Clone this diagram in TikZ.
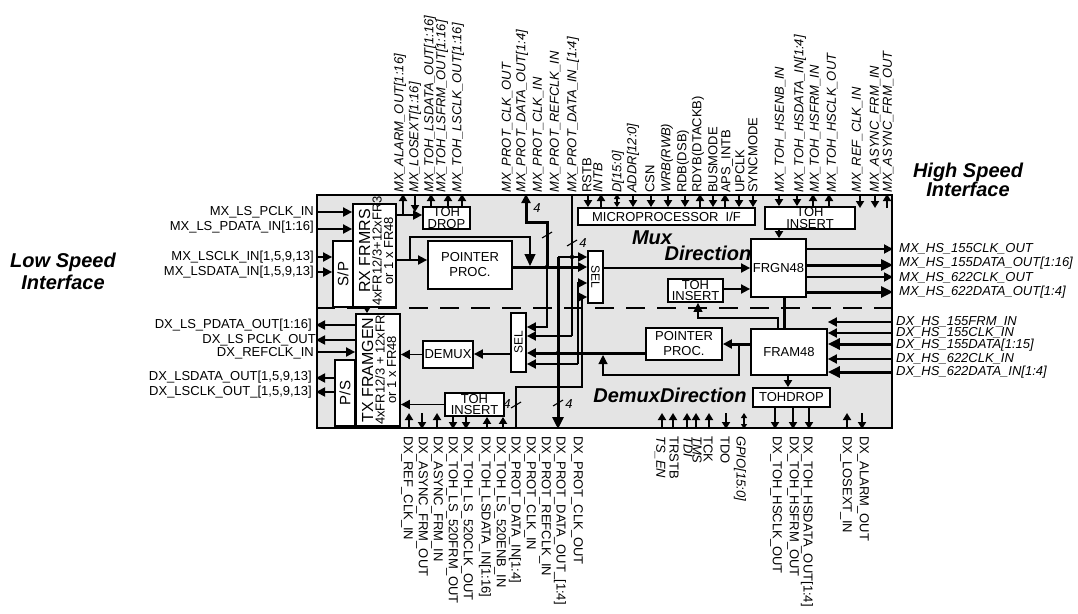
\documentclass[tikz,border=0pt]{standalone}
\usepackage{fontspec}
\setmainfont{Liberation Sans}
\usetikzlibrary{arrows.meta}
\definecolor{chipgray}{HTML}{E4E4E4}
\begin{document}
\begin{tikzpicture}[x=1pt,y=-1pt,
  blk/.style={draw, line width=1.8pt, fill=white, inner sep=0pt},
  btxt/.style={font=\fontsize{13}{11.5}\selectfont, align=center, inner sep=0pt},
  w/.style={line width=1.8pt},
  bus/.style={line width=3pt},
  thin/.style={line width=1.1pt},
  arr/.style={-{Triangle[length=9pt,width=9pt]}},
  barr/.style={-{Triangle[length=12pt,width=11pt]}},
  parr/.style={-{Triangle[length=7pt,width=8pt]}},
  biarr/.style={{Triangle[length=5pt,width=6pt]}-{Triangle[length=5pt,width=6pt]}},
  lbl/.style={font=\fontsize{13}{13}\selectfont, inner sep=0pt},
  ilbl/.style={font=\fontsize{13}{13}\selectfont\itshape, inner sep=0pt},
  big/.style={font=\fontsize{20}{22}\selectfont\bfseries\itshape, inner sep=0pt, align=center},
  jdot/.style={circle, fill, inner sep=0pt, minimum size=4.5pt},
]
\useasboundingbox (0,0) rectangle (1078,613);
% chip
\node[draw, line width=2pt, fill=chipgray, minimum width=575, minimum height=233, inner sep=0pt] (chip) at (604.5,311.5) {};
\draw[w, dash pattern=on 19pt off 12pt] (chip.west |- 0,308) -- (chip.east |- 0,308);

% blocks
\node[blk, minimum width=20, minimum height=66] (sp) at (343,274) {};
\node[btxt, rotate=90, font=\fontsize{15}{15}\selectfont] at (sp) {S/P};
\node[blk, minimum width=43, minimum height=103] (rx) at (374.5,255.5) {};
\node[rotate=90, align=center, inner sep=0pt, font=\fontsize{13}{11.5}\selectfont] at (376,251) {{\fontsize{16}{15}\selectfont RX FRMRS}\\4xFR12/3+12xFR3\\or 1 x FR48};
\node[blk, minimum width=44, minimum height=112] (tx) at (378,370) {};
\node[rotate=90, align=center, inner sep=0pt, font=\fontsize{13}{11.5}\selectfont] at (379,370) {{\fontsize{16}{15}\selectfont TX FRAMGEN}\\4xFR12/3 + 12xFR\\or 1 x FR48};
\node[blk, minimum width=20, minimum height=66] (ps) at (345,393) {};
\node[btxt, rotate=90, font=\fontsize{15}{15}\selectfont] at (ps) {P/S};
\node[blk, minimum width=47, minimum height=22] (tohd1) at (446.5,218) {};
\node[btxt] at (tohd1) {TOH\\DROP};
\node[blk, minimum width=84, minimum height=48] (pp1) at (470,265) {};
\node[btxt, font=\fontsize{13}{15}\selectfont] at (pp1) {POINTER\\PROC.};
\node[blk, minimum width=50, minimum height=27] (demux) at (448,354.5) {};
\node[btxt] at (demux) {DEMUX};
\node[blk, minimum width=15, minimum height=59] (sel2) at (518.5,342.5) {};
\node[btxt, rotate=90, font=\fontsize{12}{12}\selectfont] at (sel2) {SEL};
\node[blk, minimum width=15, minimum height=52] (sel1) at (595.5,277) {};
\node[btxt, rotate=-90, font=\fontsize{12}{12}\selectfont] at (sel1) {SEL};
\node[blk, minimum width=177, minimum height=17] (mpu) at (666.5,216.5) {};
\node[btxt] at (mpu) {MICROPROCESSOR~~I/F};
\node[blk, minimum width=90, minimum height=22] (tohi1) at (810,218) {};
\node[btxt] at (tohi1) {TOH\\INSERT};
\node[blk, minimum width=55, minimum height=58] (frgn) at (778.5,268) {};
\node[btxt] at (frgn) {FRGN48};
\node[blk, minimum width=55, minimum height=23] (tohi2) at (695.5,290.5) {};
\node[btxt] at (tohi2) {TOH\\INSERT};
\node[blk, minimum width=76, minimum height=32] (pp2) at (684,344) {};
\node[btxt, font=\fontsize{13}{15}\selectfont] at (pp2) {POINTER\\PROC.};
\node[blk, minimum width=76, minimum height=46] (fram) at (789,352) {};
\node[btxt] at (fram) {FRAM48};
\node[blk, minimum width=77, minimum height=19] (tohd2) at (791.5,397.5) {};
\node[btxt] at (tohd2) {TOHDROP};
\node[blk, minimum width=59, minimum height=23] (tohi3) at (474.5,404.5) {};
\node[btxt] at (tohi3) {TOH\\INSERT};

% big titles
\node[big] at (63,271) {Low Speed\\Interface};
\node[big, font=\fontsize{20}{16}\selectfont\bfseries\itshape] at (968,180) {High Speed\\Interface};
\node[big] at (652,238) {Mux};
\node[big] at (708,253) {Direction};
\node[big] at (670,395) {DemuxDirection};

% left pins
\draw[w,arr] (chip.west |- 0,212) -- (rx.west |- 0,212);
\draw[w,arr] (chip.west |- 0,229) -- (rx.west |- 0,229);
\draw[w,arr] (chip.west |- 0,257) -- (sp.west |- 0,257);
\draw[w,arr] (chip.west |- 0,272) -- (sp.west |- 0,272);
\draw[w,arr] (tx.west |- 0,325) -- (chip.west |- 0,325);
\draw[w,arr] (tx.west |- 0,340) -- (chip.west |- 0,340);
\draw[w,arr] (chip.west |- 0,352) -- (tx.west |- 0,352);
\draw[w,arr] (ps.west |- 0,378) -- (chip.west |- 0,378);
\draw[w,arr] (ps.west |- 0,392) -- (chip.west |- 0,392);
\node[lbl, anchor=east] at (314,212) {MX\_LS\_PCLK\_IN};
\node[lbl, anchor=east] at (314,227) {MX\_LS\_PDATA\_IN[1:16]};
\node[lbl, anchor=east] at (314,257) {MX\_LSCLK\_IN[1,5,9,13]};
\node[lbl, anchor=east] at (314,272) {MX\_LSDATA\_IN[1,5,9,13]};
\node[lbl, anchor=east] at (312,325) {DX\_LS\_PDATA\_OUT[1:16]};
\node[lbl, anchor=east] at (316,340) {DX\_LS PCLK\_OUT};
\node[lbl, anchor=east] at (314,353) {DX\_REFCLK\_IN};
\node[lbl, anchor=east] at (312,377) {DX\_LSDATA\_OUT[1,5,9,13]};
\node[lbl, anchor=east] at (312,392) {DX\_LSCLK\_OUT\_[1,5,9,13]};

% right pins
\draw[w,arr] (frgn.east |- 0,249) -- (chip.east |- 0,249);
\draw[bus,barr] (frgn.east |- 0,265) -- (chip.east |- 0,265);
\draw[w,arr] (frgn.east |- 0,277) -- (chip.east |- 0,277);
\draw[bus,barr] (frgn.east |- 0,292) -- (chip.east |- 0,292);
\draw[w,arr] (chip.east |- 0,322) -- (fram.east |- 0,322);
\draw[w,arr] (chip.east |- 0,333) -- (fram.east |- 0,333);
\draw[bus,barr] (chip.east |- 0,344) -- (fram.east |- 0,344);
\draw[w,arr] (chip.east |- 0,359) -- (fram.east |- 0,359);
\draw[bus,barr] (chip.east |- 0,372) -- (fram.east |- 0,372);
\node[ilbl, anchor=west] at (899,249) {MX\_HS\_155CLK\_OUT};
\node[ilbl, anchor=west] at (899,263) {MX\_HS\_155DATA\_OUT[1:16]};
\node[ilbl, anchor=west] at (899,278) {MX\_HS\_622CLK\_OUT};
\node[ilbl, anchor=west] at (899,292) {MX\_HS\_622DATA\_OUT[1:4]};
\node[ilbl, anchor=west] at (896,322) {DX\_HS\_155FRM\_IN};
\node[ilbl, anchor=west] at (896,333) {DX\_HS\_155CLK\_IN};
\node[ilbl, anchor=west] at (896,345) {DX\_HS\_155DATA[1:15]};
\node[ilbl, anchor=west] at (896,359) {DX\_HS\_622CLK\_IN};
\node[ilbl, anchor=west] at (896,372) {DX\_HS\_622DATA\_IN[1:4]};

% mux internal
\draw[w,arr] (rx.east |- 0,215) -- (tohd1.west |- 0,215);
\draw[w,arr] (rx.east |- 0,260) -- (pp1.west |- 0,260);
\coordinate (byp) at (410,260);
\draw[thin,barr] (byp) -- (410,237) -- (530,237) -- (530,266);
\draw[w,parr] (rx.south -| 367,0) -- (tx.north -| 367,0);
\draw[bus,arr] (pp1.east |- 0,267) -- (sel1.west |- 0,267);
\draw[w,arr] (sel1.east |- 0,268) -- (frgn.west |- 0,268);
\draw[w,arr] (tohi2.east |- 0,289) -- (frgn.west |- 0,289);
\draw[w,parr] (tohi1.south -| 779,0) -- (frgn.north -| 779,0);
\draw[bus] (frgn.south -| 784,0) -- (fram.north -| 784,0);
\draw[thin,arr] (fram.north -| 778,0) -- (778,318) -- (698,318) -- (tohi2.south -| 698,0);

% loopback wiring
\draw[bus,arr] (547,267) -- (547,222) -- (526,222) -- (chip.north -| 526,0);
\draw[w,arr] (547,267) -- (547,327) -- (sel2.east |- 0,327);
\node[jdot] at (547,267) {};
\draw[w] (chip.north -| 572,0) -- (572,336);
\draw[w,arr] (572,336) -- (sel2.east |- 0,336);
\draw[w,arr] (558,257) -- (sel1.west |- 0,257);
\node[jdot] at (572,257) {};
\draw[bus,barr] (558,257) -- (chip.south -| 558,0);
\node[jdot] at (558,353) {};
\draw[w,arr] (578,364) -- (578,283) -- (sel1.west |- 0,283);
\draw[w,arr] (578,364) -- (sel2.east |- 0,364);
\draw[w,arr] (chip.south -| 516,0) -- (516,387) -- (582,387) -- (582,297) -- (sel1.west |- 0,297);
% bus ticks
\draw[thin] (542,238) -- (552,232);
\draw[thin] (567,246) -- (577,240);
\draw[thin] (511,408) -- (521,402);
\draw[thin] (553,406) -- (563,400);
\node[ilbl] at (537,208) {4};
\node[ilbl] at (583,243) {4};
\node[ilbl] at (507,404) {4};
\node[ilbl] at (569,404) {4};

% demux internal
\draw[bus,arr] (fram.west |- 0,344) -- (pp2.east |- 0,344);
\draw[thin,arr] (739,344) -- (739,375) -- (603,375) -- (603,355);
\draw[w,parr] (fram.south -| 788,0) -- (tohd2.north -| 788,0);
\draw[bus,arr] (pp2.west |- 0,353) -- (sel2.east |- 0,353);
\draw[w,arr] (sel2.west |- 0,354) -- (demux.east |- 0,354);
\draw[w,arr] (demux.west) -- (tx.east |- demux.west);
\draw[w,arr] (tohi3.west) -- (tx.east |- tohi3.west);

% top pins
\draw[w,parr] (403,215) -- (chip.north -| 403,0);
\draw[w,parr] (chip.north -| 415,0) -- (415,212);
\foreach \x in {431,448,462} \draw[w,parr] (tohd1.north -| \x,0) -- (chip.north -| \x,0);
\foreach \x in {601,700,725} \draw[w,parr] (mpu.north -| \x,0) -- (chip.north -| \x,0);
\foreach \x in {588,633,651,668,685,713,739,753} \draw[w,parr] (chip.north -| \x,0) -- (mpu.north -| \x,0);
\draw[thin,biarr] (chip.north -| 617,0) -- (mpu.north -| 617,0);
\foreach \x in {813,829} \draw[w,parr] (tohi1.north -| \x,0) -- (chip.north -| \x,0);
\foreach \x in {779,797} \draw[w,parr] (chip.north -| \x,0) -- (tohi1.north -| \x,0);
\foreach \x in {860,875} \draw[w,parr] (chip.north -| \x,0) -- (\x,208);
\draw[w,parr] (887,208) -- (chip.north -| 887,0);

% bottom pins
\foreach \x in {409,437,662,673,687,696,709,847} \draw[w,parr] (chip.south -| \x,0) -- (\x,413);
\foreach \x in {422,726,862} \draw[w,parr] (\x,413) -- (chip.south -| \x,0);
\foreach \x in {453,466} \draw[w,parr] (tohi3.south -| \x,0) -- (chip.south -| \x,0);
\foreach \x in {487,503} \draw[w,parr] (chip.south -| \x,0) -- (tohi3.south -| \x,0);
\foreach \x in {775,793,809} \draw[w,parr] (tohd2.south -| \x,0) -- (chip.south -| \x,0);
\draw[thin,biarr] (744,413) -- (chip.south -| 744,0);

% top labels
\foreach \x/\t in {400/{MX\_ALARM\_OUT[1:16]}, 415/{MX\_LOSEXT[1:16]}, 430/{MX\_TOH\_LSDATA\_OUT[1:16]}, 442/{MX\_TOH\_LSFRM\_OUT[1:16]}, 458/{MX\_TOH\_LSCLK\_OUT[1:16]}, 507/{MX\_PROT\_CLK\_OUT}, 522/{MX\_PROT\_DATA\_OUT[1:4]}, 538/{MX\_PROT\_CLK\_IN}, 555/{MX\_PROT\_REFCLK\_IN}, 573/{MX\_PROT\_DATA\_IN\_[1:4]}, 598/{INTB}, 618/{D[15:0]}, 633/{ADDR[12:0]}, 667/{WRB(RWB)}, 780/{MX\_TOH\_HSENB\_IN}, 800/{MX\_TOH\_HSDATA\_IN[1:4]}, 815/{MX\_TOH\_HSFRM\_IN}, 832/{MX\_TOH\_HSCLK\_OUT}, 857/{MX\_REF\_CLK\_IN}, 875/{MX\_ASYNC\_FRM\_IN}, 888/{MX\_ASYNC\_FRM\_OUT}}
  \node[ilbl, rotate=90, anchor=west] at (\x,193) {\t};
\foreach \x/\t in {587/{RSTB}, 650/{CSN}, 683/{RDB(DSB)}, 698/{RDYB(DTACKB)}, 713/{BUSMODE}, 727/{APS\_INTB}, 740/{UPCLK}, 753/{SYNCMODE}}
  \node[lbl, rotate=90, anchor=west] at (\x,193) {\t};

% bottom labels
\foreach \x/\t in {407/{DX\_REF\_CLK\_IN}, 422/{DX\_ASYNC\_FRM\_OUT}, 437/{DX\_ASYNC\_FRM\_IN}, 452/{DX\_TOH\_LS\_520FRM\_OUT}, 467/{DX\_TOH\_LS\_520CLK\_OUT}, 485/{DX\_TOH\_LSDATA\_IN[1:16]}, 500/{DX\_TOH\_LS\_520ENB\_IN}, 515/{DX\_PROT\_DATA\_IN[1:4]}, 530/{DX\_PROT\_CLK\_IN}, 545/{DX\_PROT\_REFCLK\_IN}, 560/{DX\_PROT\_DATA\_OUT\_[1:4]}, 577/{DX\_PROT\_CLK\_OUT}, 674/{TRSTB}, 708/{TCK}, 725/{TDO}, 776/{DX\_TOH\_HSCLK\_OUT}, 793/{DX\_TOH\_HSFRM\_OUT}, 807/{DX\_TOH\_HSDATA\_OUT[1:4]}, 846/{DX\_LOSEXT\_IN}, 863/{DX\_ALARM\_OUT}}
  \node[lbl, rotate=-90, anchor=west] at (\x,436) {\t};
\foreach \x/\t in {660/{TS\_EN}, 688/{TDI}, 697/{TMS}, 740/{GPIO[15:0]}}
  \node[ilbl, rotate=-90, anchor=west] at (\x,436) {\t};
\end{tikzpicture}
\end{document}
